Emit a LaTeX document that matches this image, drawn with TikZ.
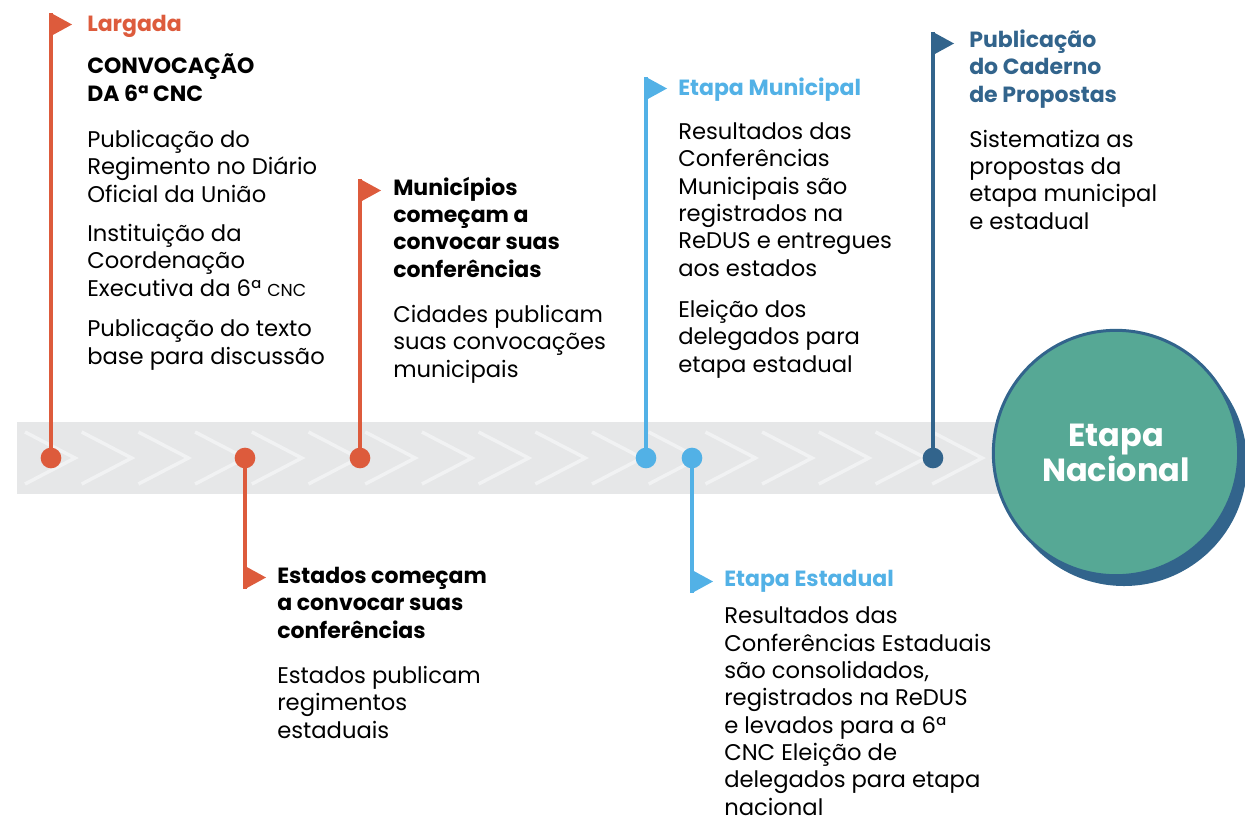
\documentclass[tikz,border=0pt]{standalone}
\usepackage{fontspec}
\setmainfont{Poppins}
\usetikzlibrary{positioning}
\definecolor{laranja}{RGB}{221,91,60}
\definecolor{celeste}{RGB}{82,177,230}
\definecolor{marinho}{RGB}{50,100,140}
\definecolor{verde}{RGB}{86,168,149}
\definecolor{faixa}{RGB}{230,231,232}
\definecolor{seta}{RGB}{241,242,243}
\newcommand {\ponto}[3] {\node[ponto,fill=#3] (#1) at (#2,458) {};}
\newcommand {\flamula}[4] {\coordinate (#1) at (#2,#3); \coordinate (#1b) at ({#2},{#3+23}); \fill[#4] (#1) -- ++(21,11.5) -- (#1b) -- cycle;}

\begin{document}
\begin{tikzpicture}[x=0.75pt,y=-0.75pt,
	ponto/.style={circle,inner sep=0pt,minimum size=15.5pt},
	haste/.style={line width=3pt},
	texto/.style={anchor=base west,align=left,inner sep=0pt,font=\fontsize{17}{20.5}\selectfont},
	titulo/.style={texto,font=\fontsize{16.5}{20.5}\selectfont\bfseries}]
	\useasboundingbox (0,0) rectangle (1245,822);
	% faixa com setas
	\fill[faixa] (17,422) rectangle (1010,494);
	\foreach \i in {0,...,16}
		\draw[seta,line width=2.6pt] ({25+56.7*\i},432) -- ++(50,26) -- ++(-50,26);
	% etapa nacional
	\fill[marinho] (1124,463) circle (92.25pt);
	\node[circle,fill=verde,draw=marinho,line width=2.25pt,minimum size=184pt,inner sep=0pt,align=center,text=white,font=\fontsize{24}{25}\selectfont\bfseries] (nac) at (1116,453) {Etapa\\Nacional};
	% marcos (as coordenadas dos textos sao a linha de base da ultima linha)
	\ponto{pLar}{51}{laranja}
	\ponto{pEst}{245}{laranja}
	\ponto{pMun}{360}{laranja}
	\ponto{pEM}{646}{celeste}
	\ponto{pEE}{692}{celeste}
	\ponto{pCad}{933}{marinho}
	\flamula{fLar}{51}{13}{laranja}
	\flamula{fEst}{245}{566}{laranja}
	\flamula{fMun}{360}{179}{laranja}
	\flamula{fEM}{646}{77}{celeste}
	\flamula{fEE}{692}{570}{celeste}
	\flamula{fCad}{933}{32}{marinho}
	\draw[haste,laranja] (pLar.center) -- (fLar);
	\draw[haste,laranja] (pEst.center) -- (fEstb);
	\draw[haste,laranja] (pMun.center) -- (fMun);
	\draw[haste,celeste] (pEM.center) -- (fEM);
	\draw[haste,celeste] (pEE.center) -- (fEEb);
	\draw[haste,marinho] (pCad.center) -- (fCad);
	% textos
	\node[titulo,text=laranja] (tLar) at (87,31) {Largada};
	\node[titulo] (tConv) at (87,101) {CONVOCAÇÃO\\DA 6ª CNC};
	\node[texto] (tReg) at (87,202) {Publicação do\\Regimento no Diário\\Oficial da União};
	\node[texto] (tCoord) at (87,296) {Instituição da\\Coordenação\\Executiva da 6ª {\fontsize{13}{13}\selectfont CNC}};
	\node[texto] (tBase) at (87,364) {Publicação do texto\\base para discussão};
	\node[titulo] (tMun) at (393,277) {Municípios\\começam a\\convocar suas\\conferências};
	\node[texto] (tCid) at (393,377) {Cidades publicam\\suas convocações\\municipais};
	\node[titulo] (tEst) at (277,638) {Estados começam\\a convocar suas\\conferências};
	\node[texto] (tEstp) at (277,738) {Estados publicam\\regimentos\\estaduais};
	\node[titulo,text=celeste] (tEM) at (678,95) {Etapa Municipal};
	\node[texto] (tResM) at (678,276) {Resultados das\\Conferências\\Municipais são\\registrados na\\ReDUS e entregues\\aos estados};
	\node[texto] (tEleM) at (678,372) {Eleição dos\\delegados para\\etapa estadual};
	\node[titulo,text=celeste] (tEE) at (724,586) {Etapa Estadual};
	\node[texto] (tResE) at (724,815) {Resultados das\\Conferências Estaduais\\são consolidados,\\registrados na ReDUS\\e levados para a 6ª\\CNC Eleição de\\delegados para etapa\\nacional};
	\node[titulo,text=marinho] (tCad) at (969,102) {Publicação\\do Caderno\\de Propostas};
	\node[texto] (tSis) at (969,229) {Sistematiza as\\propostas da\\etapa municipal\\e estadual};
\end{tikzpicture}
\end{document}
